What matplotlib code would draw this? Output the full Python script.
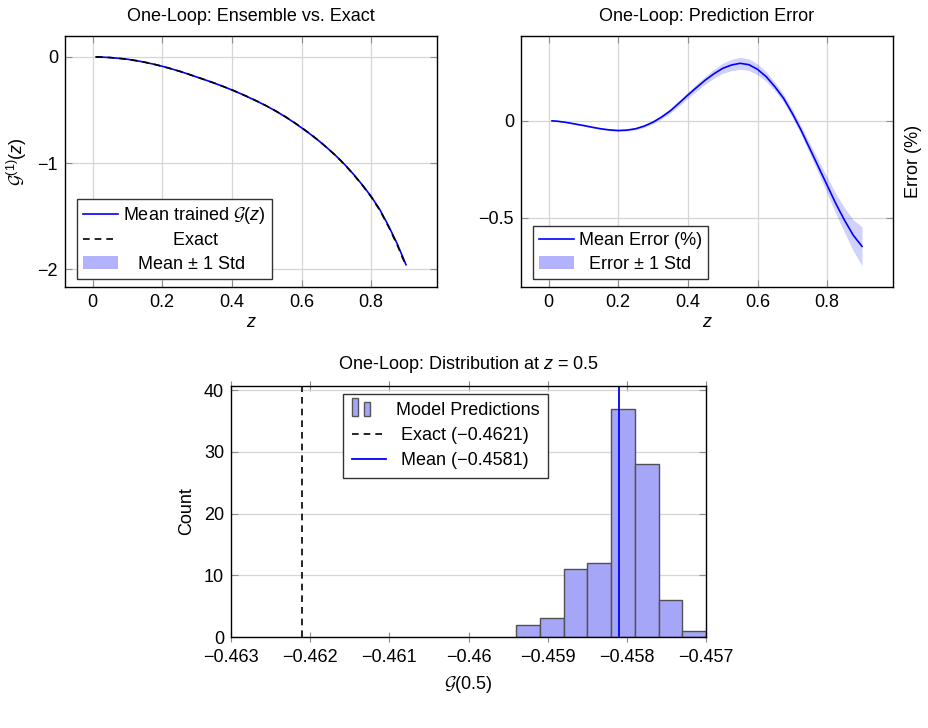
import numpy as np
import matplotlib
matplotlib.use('Agg')
import matplotlib.pyplot as plt
from matplotlib.container import BarContainer
from matplotlib.legend_handler import HandlerBase
from matplotlib.patches import Rectangle

plt.rcParams['font.family'] = ['Liberation Sans', 'DejaVu Sans']
plt.rcParams['font.size'] = 13
plt.rcParams['axes.titlesize'] = 13
plt.rcParams['mathtext.fontset'] = 'custom'
plt.rcParams['mathtext.rm'] = 'Liberation Sans'
plt.rcParams['mathtext.it'] = 'Liberation Sans:italic'
plt.rcParams['mathtext.cal'] = 'cmsy10'

# ---- data ----
z = [0.01, 0.025, 0.05, 0.075, 0.10, 0.125, 0.15, 0.175, 0.20, 0.225,
     0.25, 0.275, 0.30, 0.325, 0.35, 0.375, 0.40, 0.425, 0.45, 0.475,
     0.50, 0.525, 0.55, 0.575, 0.60, 0.625, 0.65, 0.675, 0.70, 0.725,
     0.75, 0.775, 0.80, 0.825, 0.85, 0.875, 0.90]
g_exact = [-0.0003, -0.0015, -0.006, -0.013, -0.022, -0.035, -0.050, -0.068, -0.088, -0.111,
           -0.135, -0.162, -0.190, -0.218, -0.247, -0.278, -0.310, -0.345, -0.382, -0.421,
           -0.462, -0.507, -0.555, -0.608, -0.665, -0.725, -0.790, -0.860, -0.935, -1.018,
           -1.110, -1.210, -1.318, -1.445, -1.600, -1.772, -1.970]
g_mean = [-0.0003, -0.0015, -0.006, -0.013, -0.022, -0.035, -0.050, -0.068, -0.088, -0.111,
          -0.135, -0.162, -0.190, -0.218, -0.247, -0.278, -0.311, -0.346, -0.383, -0.422,
          -0.463, -0.508, -0.557, -0.610, -0.667, -0.727, -0.791, -0.861, -0.935, -1.017,
          -1.108, -1.207, -1.314, -1.439, -1.592, -1.762, -1.957]
g_std = [0.0, 0.0001, 0.0001, 0.0002, 0.0002, 0.0003, 0.0003, 0.0004, 0.0004, 0.0005,
         0.0005, 0.0006, 0.0006, 0.0007, 0.0008, 0.0009, 0.0010, 0.0011, 0.0012, 0.0013,
         0.0014, 0.0015, 0.0016, 0.0017, 0.0018, 0.0019, 0.0020, 0.0021, 0.0022, 0.0024,
         0.0026, 0.0028, 0.0030, 0.0032, 0.0035, 0.0038, 0.0040]

err_mean = [0.0, -0.002, -0.008, -0.016, -0.024, -0.033, -0.041, -0.047, -0.050, -0.048,
            -0.041, -0.027, -0.007, 0.020, 0.052, 0.092, 0.133, 0.172, 0.210, 0.243,
            0.271, 0.288, 0.297, 0.290, 0.266, 0.228, 0.176, 0.116, 0.038, -0.048,
            -0.143, -0.238, -0.333, -0.428, -0.514, -0.591, -0.648]
err_std = [0.0, 0.001, 0.002, 0.002, 0.003, 0.003, 0.004, 0.004, 0.005, 0.005,
           0.006, 0.007, 0.008, 0.010, 0.012, 0.014, 0.016, 0.018, 0.020, 0.023,
           0.026, 0.029, 0.031, 0.030, 0.028, 0.025, 0.022, 0.020, 0.020, 0.022,
           0.027, 0.034, 0.042, 0.052, 0.064, 0.080, 0.100]

hist_edges = [-0.4594, -0.4591, -0.4588, -0.4585, -0.4582, -0.4579, -0.4576, -0.4573, -0.4570]
hist_counts = [2, 3, 11, 12, 37, 28, 6, 1]
exact_05 = -0.4621
mean_05 = -0.4581
hist_ticks = [-0.463, -0.462, -0.461, -0.460, -0.459, -0.458, -0.457]
hist_ticklabels = ['\u22120.463', '\u22120.462', '\u22120.461', '\u22120.46',
                   '\u22120.459', '\u22120.458', '\u22120.457']


class BarIconHandler(HandlerBase):
    # two little bars, like the pgfplots ybar legend image
    def create_artists(self, legend, orig_handle, xdescent, ydescent,
                       width, height, fontsize, trans):
        fc = orig_handle.patches[0].get_facecolor()
        arts = []
        for x0, h in [(0.0, 1.45), (0.36, 1.15)]:
            r = Rectangle((-xdescent + x0 * width, -ydescent - 0.1 * height),
                          0.18 * width, h * height, facecolor=fc,
                          edgecolor='#555555', lw=1.0, transform=trans)
            arts.append(r)
        return arts


W, H = 929, 728
fig = plt.figure(figsize=(W / 100, H / 100), dpi=100)


def px_axes(x0, y0, x1, y1):
    return fig.add_axes([x0 / W, 1 - y1 / H, (x1 - x0) / W, (y1 - y0) / H])


def style(ax, grid_axis='both'):
    ax.tick_params(direction='in', length=5, width=0.8, color='#8c8c8c',
                   top=True, right=True, pad=5)
    ax.grid(True, axis=grid_axis, color='#d6d6d6', lw=0.9)
    ax.set_axisbelow(True)
    for s in ax.spines.values():
        s.set_linewidth(1.0)


leg_kw = dict(fancybox=False, framealpha=1, edgecolor='#333333',
              handlelength=1.9, handletextpad=0.3, labelspacing=0.35,
              borderpad=0.35, borderaxespad=0)

# ---- top left ----
ax1 = px_axes(65, 36, 437, 287)
style(ax1)
zz = np.array(z)
band1 = ax1.fill_between(zz, np.array(g_mean) - g_std, np.array(g_mean) + g_std,
                         color='blue', alpha=0.3, lw=0)
line1, = ax1.plot(zz, g_mean, color='blue', lw=1.2)
exact1, = ax1.plot(zz, g_exact, color='black', lw=1.2, ls=(0, (4, 3)))
ax1.set_xlim(-0.079, 0.989)
ax1.set_ylim(-2.167, 0.197)
ax1.set_xticks([0, 0.2, 0.4, 0.6, 0.8])
ax1.set_xticklabels(['0', '0.2', '0.4', '0.6', '0.8'])
ax1.set_yticks([-2, -1, 0])
ax1.set_title('One-Loop: Ensemble vs. Exact', pad=11)
ax1.set_xlabel('$z$', labelpad=2)
ax1.set_ylabel(r'$\mathcal{G}^{(1)}(z)$', labelpad=6)
ax1.legend([line1, exact1, band1],
           [r'Mean trained $\mathcal{G}(z)$', '          Exact', '   Mean \u00b1 1 Std'],
           loc='lower left', bbox_to_anchor=(0.032, 0.032), **leg_kw)

# ---- top right ----
ax2 = px_axes(521, 36, 893, 287)
style(ax2)
band2 = ax2.fill_between(zz, np.array(err_mean) - err_std, np.array(err_mean) + err_std,
                         color='blue', alpha=0.18, lw=0)
line2, = ax2.plot(zz, err_mean, color='blue', lw=1.2)
ax2.set_xlim(-0.079, 0.989)
ax2.set_ylim(-0.858, 0.438)
ax2.set_xticks([0, 0.2, 0.4, 0.6, 0.8])
ax2.set_xticklabels(['0', '0.2', '0.4', '0.6', '0.8'])
ax2.set_yticks([-0.5, 0])
ax2.set_yticklabels(['\u22120.5', '0'])
ax2.set_title('One-Loop: Prediction Error', pad=11)
ax2.set_xlabel('$z$', labelpad=2)
ax2.yaxis.set_label_position('right')
ax2.set_ylabel('Error (%)', labelpad=9)
leg2 = ax2.legend([line2, band2], ['Mean Error (%)', '  Error \u00b1 1 Std'],
                  loc='lower left', bbox_to_anchor=(0.032, 0.032), **leg_kw)
leg2.legend_handles[1].set_alpha(0.3)

# ---- bottom histogram ----
ax3 = px_axes(231, 386, 706, 637)
style(ax3, grid_axis='y')
ax3.tick_params(axis='x', direction='inout', length=7)
edges = np.array(hist_edges)
bars = ax3.bar(edges[:-1], hist_counts, width=np.diff(edges), align='edge',
               facecolor='#a6a6f8', edgecolor='#505050', lw=1.0)
exact3 = ax3.axvline(exact_05, color='black', lw=1.2, ls=(0, (4, 3)))
mean3 = ax3.axvline(mean_05, color='blue', lw=1.3)
ax3.set_xlim(-0.463, -0.457)
ax3.set_ylim(0, 40.7)
ax3.set_xticks(hist_ticks)
ax3.set_xticklabels(hist_ticklabels)
ax3.set_yticks([0, 10, 20, 30, 40])
ax3.set_title('One-Loop: Distribution at $z$ = 0.5', pad=12)
ax3.set_xlabel(r'$\mathcal{G}$(0.5)', labelpad=6)
ax3.set_ylabel('Count', labelpad=6)
kw3 = dict(leg_kw, labelspacing=0.45, borderpad=0.45)
ax3.legend([bars, exact3, mean3],
           [' Model Predictions', '  Exact (\u22120.4621)', '  Mean (\u22120.4581)'],
           loc='upper center', bbox_to_anchor=(0.452, 0.968),
           handler_map={BarContainer: BarIconHandler()}, **kw3)

fig.savefig('out.png', dpi=100)
